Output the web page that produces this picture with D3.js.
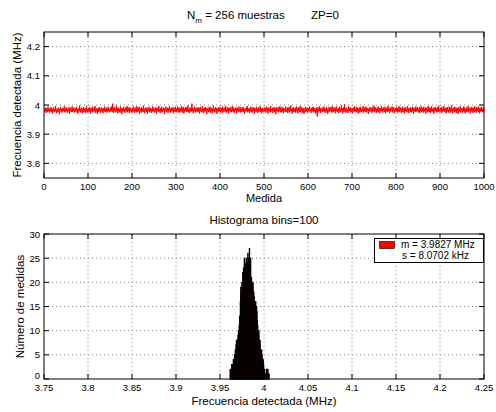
<!DOCTYPE html>
<html>
<head>
<meta charset="utf-8">
<script src="https://cdn.jsdelivr.net/npm/d3@7"></script>
<style>
  body { margin: 0; background: #fff; }
  text { font-family: "Liberation Sans", Arial, Helvetica, sans-serif; fill: #000; }
</style>
</head>
<body>
<div id="chart"></div>
<script>
var w = 496;
var h = 412;

// measured values, as kHz offsets from the mean
var meanMHz = 3.9827;
var stdKHz = 8.0702;
var freqDevKHz = [
  3,-5,8,-2,-10,6,1,-7,12,-3,4,-9,0,7,-4,10,-6,2,-12,5,-1,9,-8,3,-3,14,-5,1,-11,6,2,-7,8,-2,-14,4,0,11,-6,3,-9,7,-1,5,-4,13,-8,2,-5,9,
  -2,6,-10,1,8,-4,3,-13,10,-1,5,-7,0,12,-6,4,-3,9,-9,2,-5,7,-1,11,-8,3,-12,6,1,-4,15,-6,2,-9,8,-3,5,-11,0,10,-7,4,-2,7,-10,1,13,-5,3,-8,
  6,-1,9,-6,2,-12,8,-3,4,-8,11,0,-5,7,-2,14,-9,3,-4,6,-13,5,1,-7,10,-3,8,-10,2,-1,9,-6,4,-11,7,0,-4,12,-7,3,-2,8,-9,5,-5,11,-3,1,-8,6,
  -4,9,-2,13,-7,22,4,-10,7,-1,10,-8,3,-5,15,-3,6,-11,1,8,-6,2,-9,12,-2,5,-14,7,0,-4,11,-7,3,-10,9,-1,6,-5,14,-8,2,-3,10,-11,4,-1,8,-6,3,-9,
  7,-2,12,-5,1,-10,9,-4,5,-8,13,0,-6,8,-3,11,-12,3,-1,6,-9,10,-2,4,-7,15,-5,2,-11,7,-1,9,-6,3,-13,8,0,-4,11,-8,5,-2,7,-10,2,-5,12,-3,6,-7,
  1,-9,10,-3,5,-12,8,-1,4,-6,14,-4,2,-10,7,-2,11,-8,3,-5,9,-1,6,-14,4,0,12,-7,2,-3,8,-10,5,-1,13,-6,3,-9,7,-4,10,-2,1,-11,9,-5,4,-7,11,-3,
  5,-8,2,12,-4,7,-10,1,9,-6,3,-2,14,-9,6,-1,10,-12,4,-5,8,-3,11,-7,2,-4,16,-8,5,0,-10,9,-3,6,-6,22,-2,8,-11,3,-5,12,-1,7,-9,4,-3,10,-7,2,
  -4,9,-12,6,-1,11,-6,3,-8,13,-2,5,-10,8,0,-5,10,-3,7,-14,4,-1,9,-7,2,-4,12,-9,6,-2,8,-11,3,-6,15,-3,5,-8,1,10,-5,7,-13,4,-1,9,-6,2,-3,11,
  -8,4,-2,7,-10,12,-1,5,-7,3,9,-4,14,-9,2,-6,10,-3,6,-12,8,-1,4,-5,11,-8,2,-2,13,-6,7,-10,3,-4,9,-1,5,-11,8,-3,6,-7,12,-2,1,-9,10,-5,4,-6,
  8,-3,11,-7,2,-12,6,0,-5,9,-2,14,-8,4,-4,7,-10,3,-1,12,-6,5,-9,1,10,-3,6,-13,8,-2,4,-7,11,-1,3,-10,9,-5,2,-4,13,-6,7,-11,5,-1,8,-8,3,-3,
  10,-5,6,-9,2,12,-4,7,-12,1,9,-2,4,-8,14,-6,3,-1,8,-10,5,-3,11,-7,0,6,-14,9,-2,4,-5,10,-8,2,-3,13,-6,7,-9,1,11,-4,5,-11,8,-1,3,-7,12,-2,
  -6,4,9,-10,2,-3,11,-8,6,-1,15,-5,3,-12,7,-2,10,-7,4,-4,8,-9,1,12,-3,5,-11,9,-1,6,-6,14,-8,2,-2,10,-10,4,-5,7,-13,3,0,11,-7,5,-3,9,-9,2,
  -4,8,-1,12,-7,3,-10,6,-2,9,-5,11,-8,4,-3,7,-12,2,-6,10,-22,5,-9,8,-1,13,-4,6,-11,3,-2,9,-7,1,-5,12,-3,7,-10,4,-1,10,-8,5,-13,2,-4,11,-6,3,
  9,-2,6,-9,14,-5,1,-7,10,-3,5,-11,8,-1,12,-6,3,-4,7,-10,2,11,-8,4,-2,16,-5,6,-12,3,9,-7,20,-3,5,-9,1,8,-6,2,-10,12,-4,6,-1,10,-8,3,-5,7,
  -11,4,-2,9,-6,13,-3,5,-8,1,10,-5,7,-12,3,-1,8,-9,11,-4,2,-7,6,-2,14,-10,4,-3,9,-6,0,12,-8,5,-1,7,-13,3,-4,10,-5,8,-2,4,-9,11,-6,2,-3,15,
  -7,6,-1,10,-10,3,-4,8,-8,12,-2,5,-11,7,1,-5,13,-3,4,-9,9,-1,6,-6,11,-12,2,-3,8,-7,4,14,-4,7,-10,1,9,-5,3,-2,12,-8,6,-1,10,-11,3,-4,7,-6,
  11,-2,5,-9,8,-4,13,-6,2,-1,9,-10,4,-3,12,-7,6,0,-12,8,-3,10,-5,3,-8,14,-1,6,-11,4,-2,9,-6,7,-9,1,11,-4,5,-13,8,-2,3,-7,12,-5,6,-1,10,-8,
  2,-4,9,-11,6,-1,13,-7,3,-3,8,-9,11,-5,4,-2,10,-12,7,-1,5,-8,14,-4,2,-6,9,-10,6,-3,12,-7,3,-1,8,-13,5,-4,11,-2,7,-9,3,-5,10,-6,15,-3,1,-8,
  6,-2,11,-10,4,-5,9,-1,13,-7,3,-4,8,-12,6,-2,10,-6,1,-9,12,-3,7,-8,4,16,-5,2,-11,9,-1,5,-7,11,-4,3,-10,8,-2,6,-13,10,-3,4,-6,13,-8,2,-1,7,
  -9,5,-3,12,-6,8,-11,2,-2,10,-7,4,-4,14,-8,6,-1,9,-12,3,-5,11,-3,7,-10,1,8,-6,13,-2,4,-9,10,-4,6,-1,12,-7,3,-11,9,-5,5,-3,11,-8,2,-6,8,-2
];

// histogram: 100 bins between binStart and binEnd (MHz)
var binStart = 3.9614;
var binEnd = 4.006;
var binCounts = [
  2,1,2,1,3,2,3,2,4,3, 4,5,4,6,5,7,8,6,8,7,
  9,10,8,11,13,12,16,19,17,18, 20,19,22,20,23,21,25,22,24,21,
  23,25,22,24,23,26,24,25,22,27, 24,23,25,20,21,18,20,19,20,17,
  18,17,15,16,14,16,13,15,14,12, 11,10,9,10,8,7,8,6,6,5,
  6,5,4,3,4,3,2,2,1,1, 0,1,2,1,2,1,2,1,0,1
];

// tick labels
var topXTicks = [0, 100, 200, 300, 400, 500, 600, 700, 800, 900, 1000];
var topYTicks = [3.8, 3.9, 4, 4.1, 4.2];
var histXTicks = [3.75, 3.8, 3.85, 3.9, 3.95, 4, 4.05, 4.1, 4.15, 4.2, 4.25];
var histYTicks = [0, 5, 10, 15, 20, 25, 30];

var svg = d3
  .select("#chart")
  .append("svg")
  .attr("width", w)
  .attr("height", h);

svg.append("rect").attr("width", w).attr("height", h).attr("fill", "#fff");

var left = 44, right = 484;
var tickLen = 5;

// Dotted grid lines at the inner ticks
function grid(g, x, y, xTicks, yTicks) {
  var x0 = x.range()[0], x1 = x.range()[1];
  var y0 = y.range()[0], y1 = y.range()[1];

  g.selectAll(".gx")
    .data(xTicks.filter(function (d) { return x(d) > x0 + 1 && x(d) < x1 - 1; }))
    .enter()
    .append("line")
    .attr("x1", function (d) { return x(d); })
    .attr("x2", function (d) { return x(d); })
    .attr("y1", y0)
    .attr("y2", y1)
    .attr("stroke", "#888")
    .attr("stroke-dasharray", "1,3");

  g.selectAll(".gy")
    .data(yTicks.filter(function (d) { return y(d) < y0 - 1 && y(d) > y1 + 1; }))
    .enter()
    .append("line")
    .attr("x1", x0)
    .attr("x2", x1)
    .attr("y1", function (d) { return y(d); })
    .attr("y2", function (d) { return y(d); })
    .attr("stroke", "#888")
    .attr("stroke-dasharray", "1,3");
}

// Box, inward ticks on all four sides, and tick labels
function box(g, x, y, xTicks, yTicks, xFmt, yFmt) {
  var x0 = x.range()[0], x1 = x.range()[1];
  var y0 = y.range()[0], y1 = y.range()[1];

  g.append("rect")
    .attr("x", x0)
    .attr("y", y1)
    .attr("width", x1 - x0)
    .attr("height", y0 - y1)
    .attr("fill", "none")
    .attr("stroke", "#000");

  xTicks.forEach(function (d) {
    g.append("line").attr("x1", x(d)).attr("x2", x(d)).attr("y1", y0).attr("y2", y0 - tickLen).attr("stroke", "#000");
    g.append("line").attr("x1", x(d)).attr("x2", x(d)).attr("y1", y1).attr("y2", y1 + tickLen).attr("stroke", "#000");
  });
  yTicks.forEach(function (d) {
    g.append("line").attr("x1", x0).attr("x2", x0 + tickLen).attr("y1", y(d)).attr("y2", y(d)).attr("stroke", "#000");
    g.append("line").attr("x1", x1).attr("x2", x1 - tickLen).attr("y1", y(d)).attr("y2", y(d)).attr("stroke", "#000");
  });

  g.selectAll(".xl")
    .data(xTicks)
    .enter()
    .append("text")
    .attr("x", function (d) { return x(d); })
    .attr("y", y0 + 11.5)
    .attr("text-anchor", "middle")
    .attr("font-size", "9.5px")
    .text(xFmt);

  // the bottom label sits just above the axis line, like the original
  g.selectAll(".yl")
    .data(yTicks)
    .enter()
    .append("text")
    .attr("x", x0 - 4)
    .attr("y", function (d) { return Math.abs(y(d) - y0) < 1 ? y(d) : y(d) + 3.5; })
    .attr("text-anchor", "end")
    .attr("font-size", "9.5px")
    .text(yFmt);
}

// ---------- top plot ----------
var xTop = d3.scaleLinear().domain([0, 1000]).range([left, right]);
var yTop = d3.scaleLinear().domain([3.75, 4.25]).range([178, 32]);

var topG = svg.append("g");
grid(topG, xTop, yTop, topXTicks, topYTicks);

var line = d3
  .line()
  .x(function (d, i) { return xTop(i + 1); })
  .y(function (d) { return yTop(meanMHz + d / 1000); });

topG.append("path")
  .datum(freqDevKHz)
  .attr("d", line)
  .attr("fill", "none")
  .attr("stroke", "#ff0000")
  .attr("stroke-width", 1);

box(topG, xTop, yTop, topXTicks, topYTicks, d3.format("~g"), d3.format("~g"));

var title = svg.append("text").attr("x", 187).attr("y", 19).attr("font-size", "11.5px");
title.append("tspan").text("N");
title.append("tspan").attr("dy", 4).attr("font-size", "8px").text("m");
title.append("tspan").attr("dy", -4).text(" = 256 muestras");
svg.append("text").attr("x", 311).attr("y", 19).attr("font-size", "11.5px").text("ZP=0");

svg.append("text")
  .attr("x", (left + right) / 2)
  .attr("y", 201.5)
  .attr("text-anchor", "middle")
  .attr("font-size", "11px")
  .text("Medida");

svg.append("text")
  .attr("transform", "translate(21," + (32 + 178) / 2 + ") rotate(-90)")
  .attr("text-anchor", "middle")
  .attr("font-size", "11.5px")
  .text("Frecuencia detectada (MHz)");

// ---------- histogram ----------
var xH = d3.scaleLinear().domain([3.75, 4.25]).range([left, right]);
var yH = d3.scaleLinear().domain([0, 30]).range([379, 234]);
var binW = (binEnd - binStart) / binCounts.length;

var histG = svg.append("g");
grid(histG, xH, yH, histXTicks, histYTicks);

histG.selectAll(".bar")
  .data(binCounts)
  .enter()
  .append("rect")
  .attr("x", function (d, i) { return xH(binStart + i * binW); })
  .attr("y", function (d) { return yH(d); })
  .attr("width", xH(binStart + binW) - xH(binStart))
  .attr("height", function (d) { return yH(0) - yH(d); })
  .attr("fill", "#ff0000")
  .attr("stroke", "#000")
  .attr("stroke-width", 1);

box(histG, xH, yH, histXTicks, histYTicks, d3.format("~g"), d3.format("d"));

svg.append("text")
  .attr("x", (left + right) / 2)
  .attr("y", 224)
  .attr("text-anchor", "middle")
  .attr("font-size", "11.5px")
  .text("Histograma bins=100");

svg.append("text")
  .attr("x", (left + right) / 2)
  .attr("y", 405)
  .attr("text-anchor", "middle")
  .attr("font-size", "11.5px")
  .text("Frecuencia detectada (MHz)");

svg.append("text")
  .attr("transform", "translate(24," + (234 + 379) / 2 + ") rotate(-90)")
  .attr("text-anchor", "middle")
  .attr("font-size", "11.5px")
  .text("Número de medidas");

// Legend
var lg = svg.append("g");
lg.append("rect")
  .attr("x", 374.5)
  .attr("y", 238.5)
  .attr("width", 109)
  .attr("height", 24)
  .attr("fill", "#fff")
  .attr("stroke", "#000");
lg.append("rect")
  .attr("x", 379.5)
  .attr("y", 241.5)
  .attr("width", 15)
  .attr("height", 7)
  .attr("fill", "#ff0000")
  .attr("stroke", "#000")
  .attr("stroke-width", 0.6);
lg.append("text").attr("x", 401).attr("y", 248).attr("font-size", "10px")
  .text("m = " + meanMHz + " MHz");
lg.append("text").attr("x", 402).attr("y", 259).attr("font-size", "10px")
  .text("s  = " + stdKHz.toFixed(4) + " kHz");
</script>
</body>
</html>
